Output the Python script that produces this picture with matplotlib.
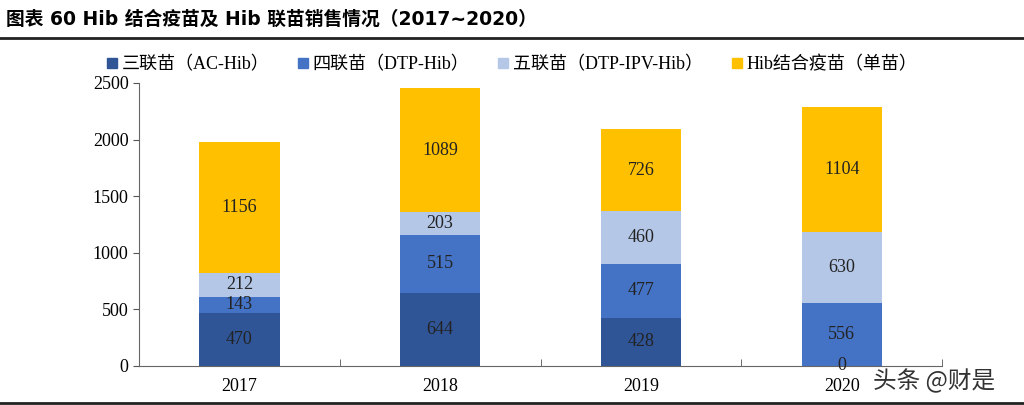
import matplotlib

matplotlib.use("Agg")
import matplotlib.pyplot as plt
import numpy as np
from matplotlib.patches import Patch

plt.rcParams["font.family"] = ["Liberation Serif", "Noto Sans CJK SC"]

years = ["2017", "2018", "2019", "2020"]
series_names = ["三联苗（AC-Hib）", "四联苗（DTP-Hib）", "五联苗（DTP-IPV-Hib）", "Hib结合疫苗（单苗）"]
san_lian = [470, 644, 428, 0]
si_lian = [143, 515, 477, 556]
wu_lian = [212, 203, 460, 630]
hib_single = [1156, 1089, 726, 1104]
colors = ["#2F5597", "#4472C4", "#B4C7E7", "#FFC000"]


def main():
    fig = plt.figure(figsize=(10.24, 4.05), dpi=100)
    ax = fig.add_axes([0.1357, 0.0963, 0.7843, 0.699])

    x = np.arange(len(years))
    bottom = np.zeros(len(years))
    for vals, name, c in zip([san_lian, si_lian, wu_lian, hib_single], series_names, colors):
        vals = np.array(vals, dtype=float)
        ax.bar(x, vals, 0.4, bottom=bottom, color=c, label=name)
        for xi, b, v in zip(x, bottom, vals):
            ax.text(xi, b + v / 2, f"{int(v)}", ha="center", va="center", fontsize=13, color="#222222")
        bottom += vals

    ax.set_xlim(-0.5, len(years) - 0.5)
    ax.set_ylim(0, 2500)
    ax.set_yticks(range(0, 2501, 500))
    ax.set_xticks(x)
    ax.set_xticklabels(years)
    ax.set_xticks(np.arange(-0.5, len(years)), minor=True)
    ax.tick_params(axis="x", which="major", length=0, pad=9, labelsize=13)
    ax.tick_params(axis="x", which="minor", direction="in", length=5, color="#555555")
    ax.tick_params(axis="y", direction="out", length=4, labelsize=13, color="#555555")
    for s in ["top", "right"]:
        ax.spines[s].set_visible(False)
    for s in ["left", "bottom"]:
        ax.spines[s].set_color("#666666")

    handles = [Patch(color=c) for c in colors]
    fig.legend(handles, series_names, loc="center", bbox_to_anchor=(0.5, 0.84), ncol=4,
               frameon=False, fontsize=13, handlelength=0.55, handleheight=0.55,
               handletextpad=0.25, columnspacing=1.6)

    fig.text(0.006, 0.953, "图表 60 Hib 结合疫苗及 Hib 联苗销售情况（2017~2020）",
             fontsize=13.5, fontweight="bold", family=["DejaVu Sans", "Noto Sans CJK SC"], va="center")
    fig.add_artist(plt.Line2D([0, 1], [0.905, 0.905], color="#222222", lw=2))
    fig.add_artist(plt.Line2D([0, 1], [0.005, 0.005], color="#222222", lw=2))
    fig.text(0.853, 0.06, "头条 @财是", fontsize=17, family=["Noto Sans CJK SC"],
             color="#333333", va="center")

    fig.savefig("out.png", dpi=100)


if __name__ == "__main__":
    main()
